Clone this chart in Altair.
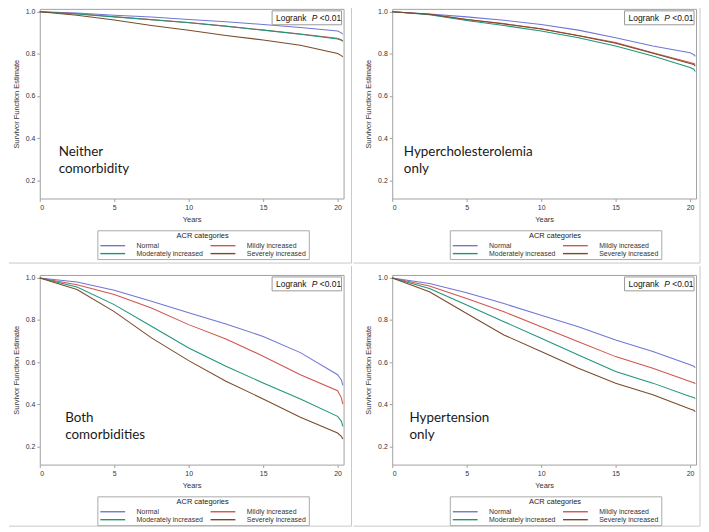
import altair as alt
import pandas as pd

groups = ["Normal", "Mildly increased", "Moderately increased", "Severely increased"]
colors = ["#7076d4", "#d2544f", "#1f957a", "#7a4b2a"]
years = [0, 2.5, 5, 7.5, 10, 12.5, 15, 17.5, 20, 20.25, 20.35]

# Neither comorbidity
p1_normal = [1.0, 0.994, 0.984, 0.975, 0.964, 0.953, 0.940, 0.925, 0.909, 0.900, 0.894]
p1_mild = [1.0, 0.991, 0.977, 0.963, 0.949, 0.932, 0.914, 0.895, 0.874, 0.867, 0.862]
p1_moderate = [1.0, 0.990, 0.976, 0.962, 0.948, 0.931, 0.913, 0.893, 0.871, 0.865, 0.860]
p1_severe = [1.0, 0.984, 0.961, 0.935, 0.912, 0.888, 0.866, 0.841, 0.802, 0.792, 0.786]

# Hypercholesterolemia only
p2_normal = [1.0, 0.990, 0.976, 0.960, 0.940, 0.913, 0.877, 0.838, 0.806, 0.796, 0.788]
p2_mild = [1.0, 0.988, 0.964, 0.944, 0.920, 0.888, 0.854, 0.806, 0.759, 0.755, 0.750]
p2_moderate = [1.0, 0.986, 0.959, 0.935, 0.909, 0.877, 0.838, 0.790, 0.735, 0.727, 0.716]
p2_severe = [1.0, 0.988, 0.963, 0.942, 0.918, 0.886, 0.851, 0.803, 0.755, 0.750, 0.742]

# Both comorbidities
p3_normal = [1.0, 0.981, 0.941, 0.889, 0.834, 0.781, 0.722, 0.645, 0.540, 0.515, 0.490]
p3_mild = [1.0, 0.968, 0.921, 0.857, 0.778, 0.710, 0.628, 0.540, 0.464, 0.430, 0.400]
p3_moderate = [1.0, 0.957, 0.873, 0.770, 0.667, 0.580, 0.501, 0.425, 0.342, 0.319, 0.295]
p3_severe = [1.0, 0.945, 0.840, 0.715, 0.607, 0.509, 0.425, 0.338, 0.263, 0.247, 0.235]

# Hypertension only
p4_normal = [1.0, 0.973, 0.929, 0.878, 0.823, 0.768, 0.705, 0.650, 0.587, 0.580, 0.574]
p4_mild = [1.0, 0.961, 0.902, 0.839, 0.768, 0.697, 0.626, 0.571, 0.508, 0.502, 0.497]
p4_moderate = [1.0, 0.950, 0.871, 0.792, 0.713, 0.634, 0.555, 0.500, 0.437, 0.432, 0.427]
p4_severe = [1.0, 0.934, 0.831, 0.729, 0.650, 0.571, 0.500, 0.445, 0.377, 0.371, 0.365]

panel_labels = ["Neither\ncomorbidity", "Hypercholesterolemia\nonly", "Both\ncomorbidities", "Hypertension\nonly"]
label_x = [1.27, 0.78, 1.71, 1.16]
label_y = [0.315, 0.315, 0.315, 0.315]

x_ticks = [0, 5, 10, 15, 20]
y_ticks = [0.2, 0.4, 0.6, 0.8, 1.0]

W, H = 306, 191
FONT = "Liberation Sans"
SEP = "#c9c9c9"


def panel(series, label, lx, ly, left, right, top, bottom):
    rows = []
    for g, vals in zip(groups, series):
        for t, v in zip(years, vals):
            rows.append({"years": t, "surv": v, "group": g})
    df = pd.DataFrame(rows)
    xenc = alt.X("years:Q", scale=alt.Scale(domain=[0, 20.4], nice=False, zero=False),
                 axis=alt.Axis(values=x_ticks, title="Years", format="d"))
    yenc = alt.Y("surv:Q", scale=alt.Scale(domain=[0.113, 1.014], nice=False, zero=False),
                 axis=alt.Axis(values=y_ticks, format=".1f", title="Survivor Function Estimate"))
    lines = alt.Chart(df).mark_line(strokeWidth=1.05).encode(
        x=xenc, y=yenc,
        color=alt.Color("group:N", scale=alt.Scale(domain=groups, range=colors),
                        legend=alt.Legend(title="ACR categories", orient="none",
                                          legendX=58, legendY=223, direction="horizontal",
                                          columns=2, symbolType="M-3.125,0H3.125", symbolSize=64,
                                          symbolStrokeWidth=1.4, symbolOffset=8.5,
                                          labelFontSize=7, labelOffset=19,
                                          titleFontSize=7.5, titleAnchor="middle",
                                          titleFontWeight="normal", titleFont=FONT,
                                          labelFont=FONT, labelColor="#333",
                                          titleColor="#222", strokeColor="#aaaaaa",
                                          padding=2, rowPadding=0, columnPadding=4,
                                          titlePadding=1)),
    )
    lab = alt.Chart(pd.DataFrame({"years": [lx], "surv": [ly], "t": [label]})).mark_text(
        align="left", baseline="alphabetic", lineBreak="\n", lineHeight=17,
        font="Lato", fontSize=13.5, color="#1a1a1a").encode(x=xenc, y=yenc, text="t:N")
    one = pd.DataFrame({"k": [0]})
    box = alt.Chart(one).mark_rect(fill="white", stroke="#999999", strokeWidth=1).encode(
        x=alt.value(W - 72), x2=alt.value(W - 2), y=alt.value(2), y2=alt.value(16))
    t1 = alt.Chart(one).mark_text(align="left", baseline="middle", font=FONT, fontSize=8.5,
                                  color="#111").encode(
        x=alt.value(W - 68), y=alt.value(9.5), text=alt.value("Logrank"))
    t2 = alt.Chart(one).mark_text(align="left", baseline="middle", font=FONT, fontSize=8.5,
                                  fontStyle="italic", color="#111").encode(
        x=alt.value(W - 32), y=alt.value(9.5), text=alt.value("P"))
    t3 = alt.Chart(one).mark_text(align="left", baseline="middle", font=FONT, fontSize=8.5,
                                  color="#111").encode(
        x=alt.value(W - 24), y=alt.value(9.5), text=alt.value("<0.01"))
    vr = alt.Chart(one).mark_rule(color=SEP, strokeWidth=1).encode(
        x=alt.value(W + right), y=alt.value(top), y2=alt.value(H + bottom))
    hr = alt.Chart(one).mark_rule(color=SEP, strokeWidth=1).encode(
        x=alt.value(left), x2=alt.value(W + right), y=alt.value(H + bottom))
    return alt.layer(lines, lab, box, t1, t2, t3, vr, hr).properties(width=W, height=H)


series = [
    [p1_normal, p1_mild, p1_moderate, p1_severe],
    [p2_normal, p2_mild, p2_moderate, p2_severe],
    [p3_normal, p3_mild, p3_moderate, p3_severe],
    [p4_normal, p4_mild, p4_moderate, p4_severe],
]

c1 = panel(series[0], panel_labels[0], label_x[0], label_y[0], -31, 8, -1, 65)
c2 = panel(series[1], panel_labels[1], label_x[1], label_y[1], -39, 4, -1, 65)
c3 = panel(series[2], panel_labels[2], label_x[2], label_y[2], -31, 8, -9, 62)
c4 = panel(series[3], panel_labels[3], label_x[3], label_y[3], -39, 4, -9, 62)

top_row = alt.hconcat(c1, c2, spacing=0).resolve_scale(color="independent").resolve_legend(color="independent")
bottom_row = alt.hconcat(c3, c4, spacing=0).resolve_scale(color="independent").resolve_legend(color="independent")

chart = alt.vconcat(top_row, bottom_row, spacing=1).resolve_scale(
    color="independent").resolve_legend(color="independent").properties(
    padding={"left": 0, "top": -3, "right": 0, "bottom": 0}, background="white"
).configure_view(stroke="#a0a0a0", strokeWidth=1).configure_axis(
    domain=False, grid=False, tickColor="#a0a0a0", tickSize=3, labelFont=FONT,
    labelFontSize=7, labelColor="#333", labelPadding=2, titleFont=FONT,
    titleFontSize=7.5, titleFontWeight="normal", titleColor="#333", titlePadding=5
)

chart.save("out.html", embed_options={"renderer": "svg", "actions": False})
